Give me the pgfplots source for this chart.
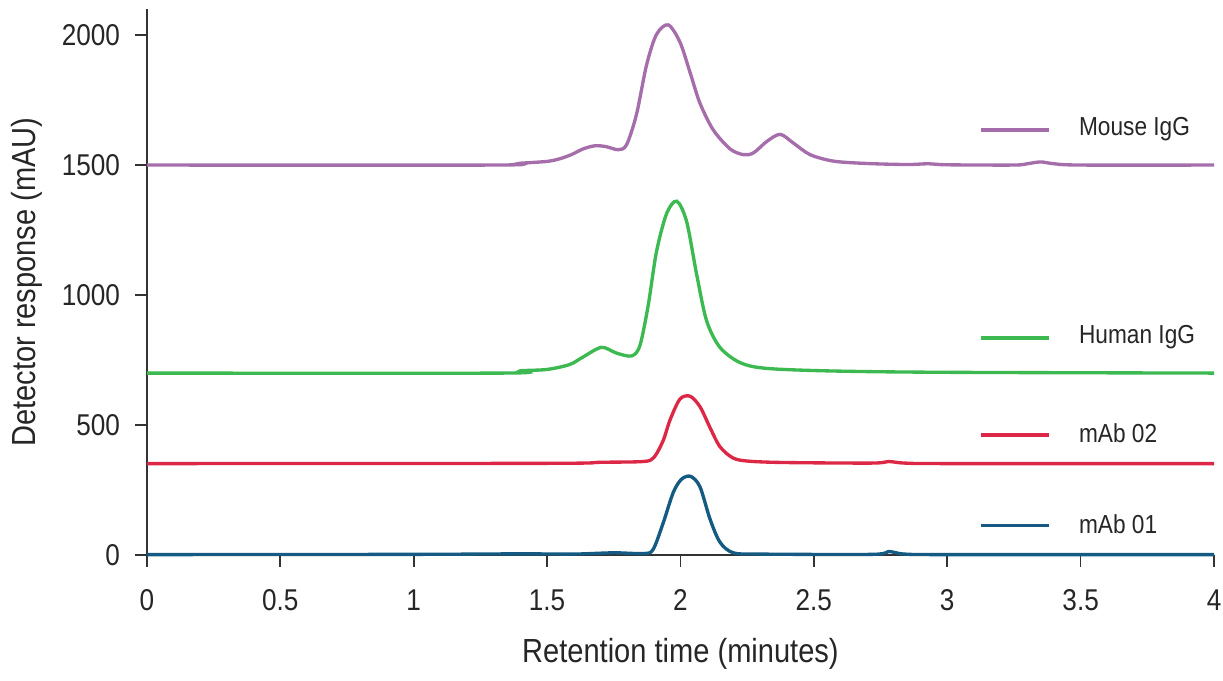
\documentclass[border=0pt]{standalone}
\usepackage{fontspec}
\setmainfont{Liberation Sans}[FakeStretch=0.87]
\usepackage{pgfplots}
\pgfplotsset{compat=1.18}

\definecolor{mouse}{RGB}{165,110,170}
\definecolor{human}{RGB}{60,185,80}
\definecolor{mabtwo}{RGB}{220,40,70}
\definecolor{mabone}{RGB}{20,90,130}

\pgfplotstableread{
x y
0 1500
1.30 1500
1.40 1507
1.50 1514
1.547 1524
1.591 1540
1.635 1562
1.679 1574
1.72 1571
1.767 1559
1.798 1578
1.835 1694
1.873 1885
1.910 2002
1.954 2039
1.998 1973
2.036 1856
2.073 1738
2.123 1635
2.186 1562
2.236 1540
2.274 1547
2.324 1591
2.374 1618
2.424 1584
2.486 1540
2.574 1515
2.699 1506
2.85 1502
2.93 1505
3.0 1501
3.25 1500
3.30 1505
3.35 1512
3.40 1505
3.5 1500
4.0 1500
}\mouse

\pgfplotstableread{
x y
0 700
1.33 700
1.40 709
1.50 714
1.585 733
1.635 762
1.704 799
1.760 777
1.817 766
1.848 806
1.879 960
1.910 1166
1.948 1313
1.986 1361
2.023 1283
2.061 1078
2.098 901
2.148 799
2.224 740
2.324 718
2.573 708
3.0 703
4.0 700
}\human

\pgfplotstableread{
x y
0 352
1.50 353
1.70 357
1.86 360
1.90 375
1.935 440
1.961 520
1.998 600
2.036 611
2.073 571
2.111 490
2.148 417
2.198 373
2.26 361
2.40 356
2.72 354
2.78 360
2.84 354
3.0 352
4.0 352
}\mabtwo

\pgfplotstableread{
x y
0 2
1.0 3
1.40 5
1.6 4
1.75 9
1.86 6
1.897 21
1.935 123
1.973 241
2.004 292
2.038 303
2.073 263
2.111 138
2.148 50
2.198 9
2.3 4
2.72 3
2.78 14
2.84 4
3.0 2
4.0 2
}\mabone

\begin{document}
\begin{tikzpicture}
\begin{axis}[
  scale only axis,
  width=319.5pt, height=163.5pt,
  xmin=0, xmax=4, ymin=0, ymax=2100,
  axis x line*=bottom, axis y line*=left,
  axis line style={draw=black!80, line width=0.5pt, -},
  xtick={0,0.5,...,4}, ytick={0,500,1000,1500,2000},
  tick align=outside, major tick length=3.5pt,
  tick style={black!80, line width=0.5pt},
  xticklabels={0,0.5,1,1.5,2,2.5,3,3.5,4},
  /pgf/number format/assume math mode=true,
  /pgf/number format/1000 sep={},
  tick label style={font=\fontsize{9}{10}\selectfont, text=black!85},
  xticklabel style={yshift=-3.4pt, inner xsep=0.5pt},
  yticklabel style={xshift=-1pt},
  xlabel={Retention time (minutes)},
  ylabel={Detector response (mAU)},
  label style={font=\fontsize{10}{12}\selectfont, text=black!85},
  xlabel style={at={(axis description cs:0.5,0)}, anchor=north, yshift=-21.3pt},
  ylabel style={yshift=-1pt},
  clip=false,
  every axis plot/.append style={line width=1pt, smooth, tension=0.5},
]
\addplot[mouse] table {\mouse};
\addplot[human] table {\human};
\addplot[mabtwo] table {\mabtwo};
\addplot[mabone] table {\mabone};

% legend lines placed by hand
\addplot[mouse, sharp plot] coordinates {(3.125,1635) (3.38,1635)};
\addplot[human, sharp plot] coordinates {(3.125,835) (3.38,835)};
\addplot[mabtwo, sharp plot] coordinates {(3.125,462) (3.38,462)};
\addplot[mabone, sharp plot] coordinates {(3.125,115) (3.38,115)};
\begin{scope}[every node/.style={anchor=west, font=\fontsize{7.8}{9}\selectfont, text=black!85}]
\node at (axis cs:3.45,1640) {Mouse IgG};
\node at (axis cs:3.45,840) {Human IgG};
\node at (axis cs:3.45,467) {mAb 02};
\node at (axis cs:3.45,120) {mAb 01};
\end{scope}
% white space above the axis top
\path (rel axis cs:0,1) ++(0,2.7pt);
\end{axis}
\end{tikzpicture}
\end{document}
